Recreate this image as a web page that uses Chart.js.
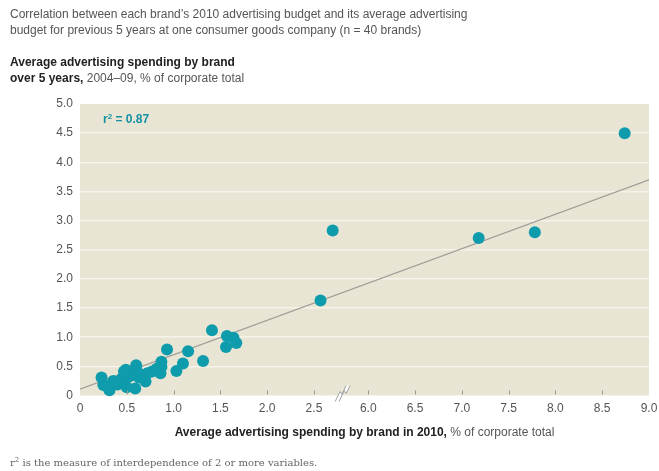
<!DOCTYPE html>
<html>
<head>
<meta charset="utf-8">
<script src="https://cdn.jsdelivr.net/npm/chart.js@4/dist/chart.umd.min.js"></script>
<style>
  html, body { margin: 0; padding: 0; background: #fff; }
  body { width: 659px; height: 471px; position: relative; overflow: hidden; font-family: "Liberation Sans", Arial, sans-serif; }
  #chart { position: absolute; left: 0; top: 0; }
  .txt { position: absolute; color: #555; font-size: 12px; line-height: 16px; white-space: nowrap; }
  .txt b { color: #222; }
  #r2 { color: #1692a3; font-weight: bold; font-size: 12px; }
  #r2 sup { font-size: 8px; line-height: 0; vertical-align: 4px; }
  #note { font-family: "DejaVu Serif", "Liberation Serif", serif; font-size: 10px; color: #666; }
  #note sup { font-size: 7px; line-height: 0; vertical-align: 4px; }
</style>
</head>
<body>
<canvas id="chart" width="659" height="471"></canvas>
<div class="txt" style="left:10px; top:6px;">Correlation between each brand’s 2010 advertising budget and its average advertising<br>budget for previous 5 years at one consumer goods company (n = 40 brands)</div>
<div class="txt" style="left:10px; top:54px;"><b>Average advertising spending by brand<br>over 5 years,</b> 2004–09, % of corporate total</div>
<div class="txt" id="r2" style="left:103px; top:111px;">r<sup>2</sup> = 0.87</div>
<div class="txt" style="left:80px; width:569px; text-align:center; top:424px;"><b>Average advertising spending by brand in 2010,</b> % of corporate total</div>
<div class="txt" id="note" style="left:10px; top:455px;">r<sup>2</sup> is the measure of interdependence of 2 or more variables.</div>
<script>
// brands: x = 2010 spend, y = 5-year average spend (% of corporate total)
const spend2010 = [0.23, 0.25, 0.29, 0.315, 0.355, 0.40, 0.45, 0.47, 0.49, 0.50,
  0.52, 0.56, 0.59, 0.60, 0.61, 0.63, 0.66, 0.68, 0.70, 0.72,
  0.77, 0.82, 0.86, 0.87, 0.87, 0.93, 1.03, 1.10, 1.155, 1.315,
  1.41, 1.56, 1.57, 1.64, 1.67, 2.57, 2.70, 7.18, 7.78, 8.74];
const spendAvg = [0.31, 0.18, 0.15, 0.09, 0.25, 0.19, 0.29, 0.41, 0.44, 0.14,
  0.32, 0.35, 0.12, 0.52, 0.41, 0.31, 0.35, 0.30, 0.24, 0.38,
  0.41, 0.46, 0.38, 0.49, 0.58, 0.79, 0.42, 0.55, 0.76, 0.59,
  1.12, 0.83, 1.02, 0.99, 0.90, 1.63, 2.83, 2.70, 2.80, 4.50];

// fitted line ends
const fitX = [0, 9.0];
const fitY = [0.11, 3.70];

const xTickValues = [0, 0.5, 1.0, 1.5, 2.0, 2.5, 6.0, 6.5, 7.0, 7.5, 8.0, 8.5, 9.0];
const xTickLabels = ["0", "0.5", "1.0", "1.5", "2.0", "2.5", "6.0", "6.5", "7.0", "7.5", "8.0", "8.5", "9.0"];
const yTickValues = [0, 0.5, 1.0, 1.5, 2.0, 2.5, 3.0, 3.5, 4.0, 4.5, 5.0];
const yTickLabels = ["0", "0.5", "1.0", "1.5", "2.0", "2.5", "3.0", "3.5", "4.0", "4.5", "5.0"];

// axis break: 2.5 .. 6.0 squeezed
const GAP_AT = 6.0;
const SHIFT = 2.92;
const BREAK_MARK = 2.79;
const toAxis = v => (v >= GAP_AT ? v - SHIFT : v);

const bgPlugin = {
  id: "bg",
  beforeDraw(chart) {
    const { ctx, chartArea: a } = chart;
    ctx.save();
    ctx.fillStyle = "#e8e5d4";
    ctx.fillRect(a.left, a.top, a.right - a.left, a.bottom - a.top);
    ctx.restore();
  },
  afterDatasetsDraw(chart) {
    const { ctx, chartArea: a } = chart;
    const xs = chart.scales.x;
    ctx.save();
    ctx.strokeStyle = "#9a9a9a";
    ctx.lineWidth = 1;
    xTickValues.forEach(v => {
      if (v === 0 || v === 9.0) return;
      const px = Math.round(xs.getPixelForValue(toAxis(v))) + 0.5;
      ctx.beginPath();
      ctx.moveTo(px, a.bottom - 5);
      ctx.lineTo(px, a.bottom - 1);
      ctx.stroke();
    });
    // break symbol
    const bx = xs.getPixelForValue(BREAK_MARK);
    const by = a.bottom - 3;
    ctx.fillStyle = "#fff";
    ctx.beginPath();
    ctx.moveTo(bx - 6, by + 9); ctx.lineTo(bx - 1, by - 1); ctx.lineTo(bx + 1, by + 2);
    ctx.lineTo(bx + 5, by - 7); ctx.lineTo(bx + 9, by - 7); ctx.lineTo(bx + 5, by + 1);
    ctx.lineTo(bx + 3, by - 2); ctx.lineTo(bx - 2, by + 9); ctx.closePath();
    ctx.fill();
    ctx.strokeStyle = "#a0a0a0";
    ctx.beginPath();
    ctx.moveTo(bx - 6, by + 9); ctx.lineTo(bx - 1, by - 1); ctx.lineTo(bx + 1, by + 2); ctx.lineTo(bx + 5, by - 7);
    ctx.moveTo(bx - 2, by + 9); ctx.lineTo(bx + 3, by - 2); ctx.lineTo(bx + 5, by + 1); ctx.lineTo(bx + 9, by - 7);
    ctx.stroke();
    ctx.restore();
  }
};

new Chart(document.getElementById("chart"), {
  data: {
    datasets: [
      {
        type: "scatter",
        data: spend2010.map((x, i) => ({ x: toAxis(x), y: spendAvg[i] })),
        backgroundColor: "#0e9cac",
        borderWidth: 0,
        pointRadius: 6,
        clip: false
      },
      {
        type: "line",
        data: fitX.map((x, i) => ({ x: toAxis(x), y: fitY[i] })),
        borderColor: "#a09e98",
        borderWidth: 1.2,
        pointRadius: 0,
        fill: false
      }
    ]
  },
  options: {
    responsive: false,
    animation: false,
    layout: { padding: { top: 104, left: 0, right: 10, bottom: 55.5 } },
    plugins: { legend: { display: false }, tooltip: { enabled: false } },
    scales: {
      x: {
        type: "linear",
        min: 0,
        max: toAxis(9.0),
        afterBuildTicks: s => { s.ticks = xTickValues.map(v => ({ value: toAxis(v) })); },
        afterFit: s => { s.height = 20; s.paddingLeft = 0; s.paddingRight = 0; },
        grid: { display: false, drawTicks: false },
        border: { display: false },
        ticks: {
          padding: 6,
          color: "#555",
          font: { family: "Liberation Sans", size: 12 },
          maxRotation: 0,
          autoSkip: false,
          callback: (v, i) => xTickLabels[i]
        }
      },
      y: {
        min: 0,
        max: 5,
        afterBuildTicks: s => { s.ticks = yTickValues.map(v => ({ value: v })); },
        afterFit: s => { s.width = 80; s.paddingTop = 0; s.paddingBottom = 0; },
        grid: {
          drawTicks: false,
          color: c => (c.tick.value === 0 || c.tick.value === 5 ? "rgba(0,0,0,0)" : "#f6f4ea"),
          lineWidth: 1.5
        },
        border: { display: false },
        ticks: {
          padding: 7,
          color: "#555",
          font: { family: "Liberation Sans", size: 12 },
          autoSkip: false,
          callback: (v, i) => yTickLabels[i]
        }
      }
    }
  },
  plugins: [bgPlugin]
});
</script>
</body>
</html>
